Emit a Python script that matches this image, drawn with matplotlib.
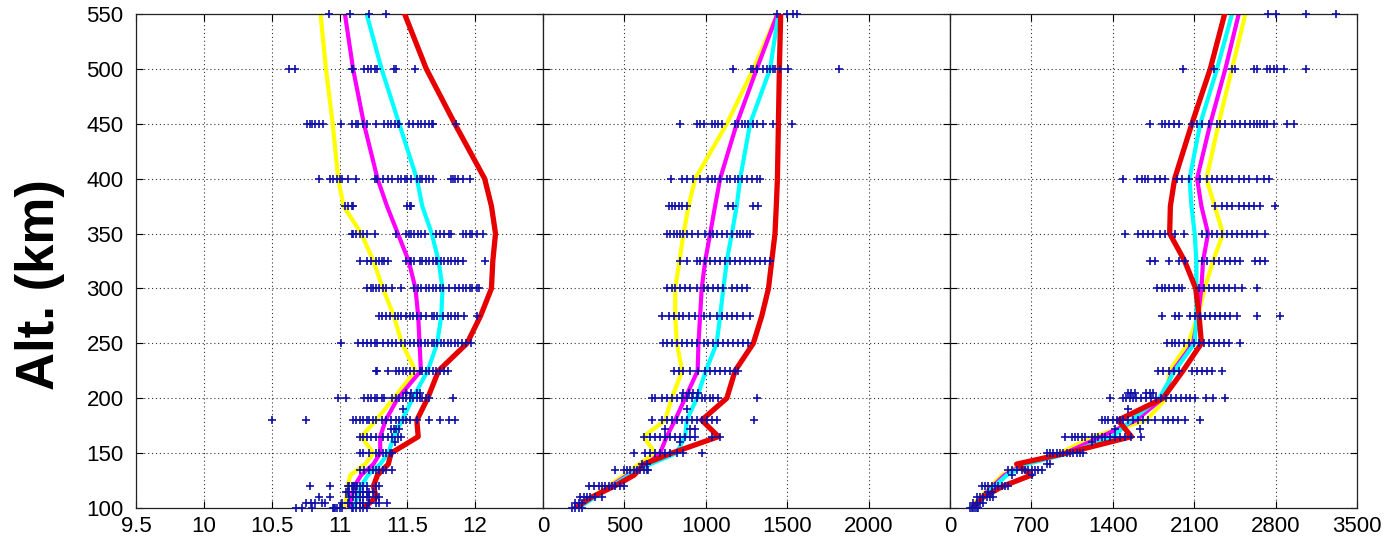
import matplotlib
matplotlib.use("Agg")
import matplotlib.pyplot as plt
import numpy as np

plt.rcParams['font.family'] = ['Liberation Sans', 'DejaVu Sans']

# ---------------- data ----------------
ALT = [100, 110, 120, 130, 140, 150, 165, 180, 200, 225, 250, 275, 300, 325, 350, 375, 400, 450, 500, 550]

# panel 1
P1_YELLOW = [11.04, 11.05, 11.06, 11.08, 11.19, 11.25, 11.16, 11.27, 11.40, 11.56, 11.46, 11.40, 11.32, 11.25, 11.16, 11.03, 10.99, 10.95, 10.90, 10.86]
P1_MAGENTA = [11.07, 11.09, 11.11, 11.16, 11.25, 11.30, 11.30, 11.34, 11.43, 11.60, 11.59, 11.58, 11.56, 11.51, 11.43, 11.35, 11.28, 11.18, 11.10, 11.04]
P1_CYAN = [11.11, 11.13, 11.16, 11.21, 11.30, 11.36, 11.40, 11.46, 11.54, 11.65, 11.72, 11.75, 11.76, 11.73, 11.68, 11.61, 11.57, 11.44, 11.31, 11.20]
P1_RED = [11.18, 11.27, 11.25, 11.28, 11.36, 11.38, 11.58, 11.57, 11.65, 11.73, 11.94, 12.04, 12.12, 12.13, 12.15, 12.12, 12.07, 11.85, 11.64, 11.48]

# panel 2
P2_YELLOW = [200, 300, 400, 500, 590, 690, 617, 750, 791, 855, 822, 812, 812, 838, 863, 894, 935, 1129, 1292, 1440]
P2_MAGENTA = [207, 310, 415, 520, 640, 719, 760, 811, 873, 950, 955, 965, 975, 996, 1027, 1057, 1088, 1190, 1313, 1440]
P2_CYAN = [217, 320, 425, 530, 660, 820, 873, 883, 945, 1000, 1067, 1088, 1108, 1129, 1160, 1190, 1211, 1272, 1395, 1446]
P2_RED = [200, 300, 440, 560, 620, 790, 1078, 975, 1129, 1180, 1292, 1344, 1385, 1405, 1425, 1433, 1440, 1446, 1452, 1460]

# panel 3
P3_YELLOW = [172, 260, 350, 450, 620, 945, 1230, 1689, 1861, 1889, 2047, 2133, 2190, 2262, 2348, 2276, 2205, 2310, 2425, 2540]
P3_MAGENTA = [185, 275, 370, 470, 640, 990, 1300, 1600, 1830, 1918, 2090, 2133, 2162, 2176, 2219, 2162, 2125, 2238, 2368, 2483]
P3_CYAN = [195, 285, 385, 490, 660, 1030, 1400, 1560, 1800, 1932, 2104, 2119, 2119, 2119, 2104, 2076, 2060, 2152, 2296, 2425]
P3_RED = [200, 286, 458, 701, 573, 1000, 1560, 1446, 1832, 2004, 2162, 2142, 2113, 2018, 1889, 1895, 1932, 2080, 2238, 2362]

# scattered observations: altitude -> values
P1_OBS = {
    550: [10.92, 11.08, 11.22, 11.34],
    500: [10.63, 10.67, 11.09, 11.10, 11.18, 11.21, 11.23, 11.26, 11.28, 11.40, 11.42, 11.56],
    450: [10.76, 10.78, 10.80, 10.82, 10.85, 10.88, 11.01, 11.09, 11.12, 11.14, 11.17, 11.20, 11.27, 11.33, 11.36,
          11.38, 11.41, 11.43, 11.44, 11.51, 11.54, 11.58, 11.60, 11.63, 11.66, 11.68, 11.69, 11.86],
    400: [10.85, 10.93, 10.95, 10.98, 11.00, 11.02, 11.06, 11.12, 11.26, 11.28, 11.32, 11.36, 11.39, 11.43, 11.45,
          11.48, 11.50, 11.53, 11.57, 11.59, 11.61, 11.64, 11.66, 11.69, 11.82, 11.84, 11.85, 11.87, 11.91, 11.96],
    375: [11.04, 11.06, 11.09, 11.10, 11.50, 11.52, 11.53],
    350: [11.09, 11.10, 11.12, 11.15, 11.17, 11.20, 11.26, 11.42, 11.49, 11.51, 11.53, 11.55, 11.58, 11.60, 11.63,
          11.71, 11.74, 11.77, 11.81, 11.82, 11.91, 11.93, 11.96, 11.98, 12.01, 12.06],
    325: [11.15, 11.20, 11.23, 11.27, 11.29, 11.31, 11.33, 11.36, 11.49, 11.52, 11.53, 11.55, 11.59, 11.61, 11.64,
          11.66, 11.69, 11.71, 11.72, 11.75, 11.77, 11.80, 11.82, 11.85, 11.87, 11.91, 12.07],
    300: [11.20, 11.23, 11.25, 11.27, 11.29, 11.32, 11.34, 11.39, 11.45, 11.55, 11.58, 11.60, 11.64, 11.66, 11.69,
          11.71, 11.74, 11.76, 11.81, 11.85, 11.88, 11.91, 11.93, 11.96, 11.98, 12.01, 12.03],
    275: [11.29, 11.31, 11.34, 11.37, 11.41, 11.43, 11.45, 11.49, 11.52, 11.54, 11.57, 11.60, 11.64, 11.68, 11.70,
          11.72, 11.76, 11.80, 11.82, 11.85, 11.87, 11.92, 12.01],
    250: [11.01, 11.14, 11.17, 11.20, 11.23, 11.26, 11.28, 11.32, 11.36, 11.39, 11.42, 11.45, 11.48, 11.52, 11.55,
          11.58, 11.60, 11.63, 11.65, 11.68, 11.70, 11.72, 11.75, 11.77, 11.80, 11.82, 11.85, 11.87, 11.90, 11.93, 11.97],
    225: [11.27, 11.28, 11.36, 11.42, 11.44, 11.47, 11.49, 11.52, 11.55, 11.59, 11.61, 11.64, 11.66, 11.69, 11.71,
          11.74, 11.77, 11.80],
    205: [11.49, 11.53, 11.57, 11.59],
    200: [10.99, 11.05, 11.18, 11.21, 11.23, 11.26, 11.28, 11.31, 11.33, 11.39, 11.42, 11.44, 11.47, 11.49, 11.52,
          11.54, 11.57, 11.59, 11.61, 11.64, 11.66, 11.84],
    190: [11.47],
    180: [10.50, 10.75, 11.10, 11.12, 11.15, 11.17, 11.20, 11.22, 11.25, 11.27, 11.31, 11.34, 11.38, 11.42, 11.44,
          11.47, 11.49, 11.52, 11.57, 11.66, 11.74, 11.81, 11.85],
    172: [11.38, 11.40, 11.42, 11.44],
    165: [11.15, 11.17, 11.20, 11.23, 11.27, 11.32, 11.36, 11.39, 11.43, 11.45],
    160: [11.41],
    150: [11.15, 11.17, 11.22, 11.27, 11.29, 11.32, 11.34, 11.37, 11.39],
    135: [11.15, 11.18, 11.22, 11.25, 11.27, 11.29, 11.32, 11.34, 11.39],
    120: [10.78, 10.93, 11.06, 11.07, 11.09, 11.10, 11.11, 11.12, 11.13, 11.15, 11.17, 11.20, 11.27, 11.29],
    115: [11.05, 11.06, 11.07, 11.10, 11.12, 11.15, 11.17, 11.20, 11.22, 11.25],
    110: [10.85, 10.93, 11.07, 11.10, 11.12, 11.15, 11.17, 11.20, 11.22, 11.27, 11.29],
    105: [10.75, 10.79, 10.82, 10.87, 10.89, 11.02, 11.06, 11.07, 11.12, 11.15, 11.17, 11.22, 11.27, 11.29, 11.35],
    100: [10.68, 10.72, 10.80, 10.95, 10.96, 10.97, 10.98, 11.00, 11.02, 11.09, 11.10, 11.12, 11.15, 11.17, 11.20],
}

P2_OBS = {
    550: [1440, 1497, 1534, 1563],
    500: [1170, 1276, 1292, 1313, 1354, 1374, 1395, 1411, 1425, 1456, 1507, 1820],
    450: [843, 945, 965, 986, 1037, 1057, 1078, 1098, 1180, 1200, 1221, 1241, 1262, 1292, 1313, 1354, 1415, 1528],
    400: [785, 853, 883, 924, 965, 1016, 1037, 1057, 1088, 1129, 1149, 1180, 1200, 1221, 1251, 1282, 1313, 1333],
    375: [771, 791, 812, 833, 853, 883, 1139, 1170, 1292, 1323],
    350: [761, 781, 802, 822, 843, 863, 883, 914, 955, 996, 1027, 1047, 1067, 1098, 1129, 1160, 1190, 1211, 1231,
          1251, 1272],
    325: [843, 883, 945, 965, 996, 1027, 1057, 1088, 1119, 1149, 1180, 1211, 1241, 1272, 1303, 1333, 1364, 1395],
    300: [761, 791, 812, 843, 873, 904, 945, 986, 1016, 1047, 1078, 1108, 1160, 1190, 1221, 1251],
    275: [730, 771, 802, 833, 863, 894, 935, 986, 1027, 1067, 1098, 1129, 1160, 1190, 1231, 1272],
    250: [740, 761, 791, 822, 853, 883, 914, 945, 986, 1016, 1047, 1078, 1108, 1139, 1170, 1200, 1231, 1262],
    225: [802, 833, 863, 904, 955, 996, 1027, 1057, 1088, 1119, 1149, 1180, 1200],
    205: [863, 894, 924, 955],
    200: [669, 689, 730, 761, 791, 822, 853, 883, 914, 945, 975, 996, 1027, 1047, 1078, 1313],
    190: [883],
    180: [669, 730, 761, 791, 822, 853, 883, 914, 945, 975, 1006, 1037, 1067, 1299],
    172: [751, 904, 935],
    165: [618, 659, 689, 720, 751, 781, 812, 843, 873, 904, 935, 1041, 1088],
    160: [843],
    150: [556, 628, 659, 689, 720, 751, 781, 822, 863, 975],
    140: [607, 638],
    135: [444, 495, 515, 536, 556, 577, 597, 618, 638, 648],
    120: [280, 311, 342, 362, 383, 403, 424, 444, 475, 495],
    110: [229, 249, 270, 290, 321, 362],
    105: [198, 219, 239],
    100: [178, 198, 219, 239],
}

P3_OBS = {
    550: [2736, 2805, 3058, 3317],
    500: [2000, 2267, 2425, 2454, 2612, 2641, 2727, 2756, 2785, 2814, 2871, 3058],
    450: [1720, 1821, 1850, 1879, 1922, 1965, 2080, 2123, 2166, 2224, 2296, 2325, 2368, 2425, 2454, 2497, 2540,
          2583, 2612, 2641, 2670, 2698, 2727, 2785, 2900, 2957],
    400: [1490, 1605, 1648, 1677, 1706, 1763, 1806, 1850, 1951, 1994, 2051, 2152, 2209, 2253, 2296, 2339, 2382,
          2425, 2483, 2526, 2569, 2641, 2698, 2742],
    375: [2281, 2339, 2382, 2425, 2483, 2526, 2569, 2612, 2670, 2799],
    350: [1505, 1620, 1663, 1706, 1749, 1806, 1850, 1936, 2008, 2166, 2209, 2253, 2296, 2339, 2382, 2425, 2468,
          2511, 2554, 2598, 2641, 2713],
    325: [1720, 1763, 1879, 1965, 2022, 2166, 2209, 2267, 2310, 2368, 2411, 2454, 2497, 2626, 2670, 2713],
    300: [1778, 1821, 1850, 1879, 1922, 1965, 1994, 2138, 2181, 2224, 2267, 2310, 2353, 2396, 2454, 2511, 2641],
    275: [1821, 1936, 1965, 2066, 2109, 2152, 2195, 2238, 2281, 2325, 2368, 2411, 2468, 2641, 2842],
    250: [1864, 1907, 1936, 1965, 2008, 2051, 2095, 2138, 2181, 2224, 2267, 2310, 2353, 2396, 2497],
    225: [1792, 1835, 1879, 1922, 1965, 2080, 2123, 2166, 2209, 2253, 2339],
    205: [1532, 1560, 1589, 1689, 1718, 1746],
    200: [1374, 1489, 1517, 1546, 1575, 1603, 1646, 1689, 1732, 1775, 1818, 1861, 1904, 1947, 1990, 2033, 2061,
          2104, 2204, 2262, 2362],
    190: [1532],
    180: [1303, 1331, 1360, 1403, 1432, 1460, 1489, 1532, 1575, 1618, 1661, 1704, 1761, 1832, 1875, 1918, 1961,
          2018, 2147],
    172: [1417, 1632],
    165: [988, 1045, 1074, 1102, 1131, 1160, 1217, 1245, 1274, 1303, 1331, 1374, 1417, 1460, 1503, 1560, 1646],
    160: [1217],
    150: [830, 859, 888, 916, 945, 973, 1002, 1031, 1059, 1088, 1117, 1145],
    140: [830, 859],
    135: [501, 530, 573, 616, 644, 673, 701, 730, 759, 787],
    130: [530, 701],
    120: [272, 301, 329, 358, 387, 415, 444, 472, 501],
    115: [329, 358],
    110: [229, 258, 286, 315, 344, 372],
    105: [200, 229, 258, 286],
    100: [172, 186, 200, 215, 229, 243],
}

P1_XTICKS = [9.5, 10, 10.5, 11, 11.5, 12]
P1_XTICKLABELS = ['9.5', '10', '10.5', '11', '11.5', '12']
P2_XTICKS = [0, 500, 1000, 1500, 2000]
P2_XTICKLABELS = ['0', '500', '1000', '1500', '2000']
P3_XTICKS = [0, 700, 1400, 2100, 2800, 3500]
P3_XTICKLABELS = ['0', '700', '1400', '2100', '2800', '3500']
YTICKS = [100, 150, 200, 250, 300, 350, 400, 450, 500, 550]
YLABEL = 'Alt. (km)'

# ---------------- figure ----------------
W, H = 1384, 543
fig = plt.figure(figsize=(W / 100, H / 100), dpi=100)

bottom = 1 - 508 / H
height = 494 / H
lefts = [136, 543, 950]
width = 407

panels = [
    (P1_YELLOW, P1_MAGENTA, P1_CYAN, P1_RED, P1_OBS, (9.5, 12.5), P1_XTICKS, P1_XTICKLABELS),
    (P2_YELLOW, P2_MAGENTA, P2_CYAN, P2_RED, P2_OBS, (0, 2500), P2_XTICKS, P2_XTICKLABELS),
    (P3_YELLOW, P3_MAGENTA, P3_CYAN, P3_RED, P3_OBS, (0, 3500), P3_XTICKS, P3_XTICKLABELS),
]

obs_color = '#1010a8'
for i, (yel, mag, cya, red, obs, xlim, xt, xtl) in enumerate(panels):
    ax = fig.add_axes([lefts[i] / W, bottom, width / W, height])
    ax.plot(yel, ALT, color='#ffff00', lw=3.0, zorder=2, solid_joinstyle='round')
    ax.plot(mag, ALT, color='#ff00ff', lw=3.0, zorder=2, solid_joinstyle='round')
    ax.plot(cya, ALT, color='#00ffff', lw=3.0, zorder=2, solid_joinstyle='round')
    ax.plot(red, ALT, color='#e60000', lw=3.8, zorder=3, solid_joinstyle='round')
    for alt, vals in obs.items():
        ax.plot(vals, [alt] * len(vals), linestyle='none', marker='+', ms=6, mew=1.2,
                color=obs_color, zorder=4, clip_on=False)
    ax.set_xlim(*xlim)
    ax.set_ylim(100, 550)
    ax.set_xticks(xt)
    ax.set_xticklabels(xtl)
    ax.set_yticks(YTICKS)
    if i == 0:
        ax.set_yticklabels([str(v) for v in YTICKS])
    else:
        ax.set_yticklabels([])
    ax.grid(True, linestyle=(0, (1, 2.5)), color='black', lw=0.8, alpha=0.8)
    ax.tick_params(direction='in', length=5, width=0.8, top=True, right=True,
                   labelsize=16)
    ax.tick_params(axis='x', pad=6)
    ax.tick_params(axis='y', pad=9)
    for s in ax.spines.values():
        s.set_linewidth(0.9)
        s.set_color('#222222')
    ax.set_axisbelow(True)

fig.text(40 / W, 1 - 285 / H, YLABEL, rotation=90, ha='center', va='center',
         fontsize=38, fontweight='bold')

fig.savefig('out.png', dpi=100)
